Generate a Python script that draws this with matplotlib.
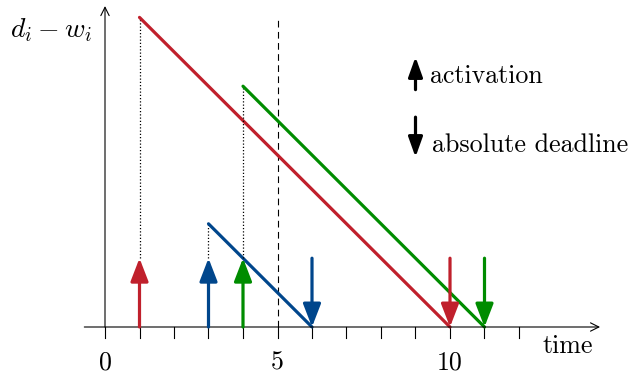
import matplotlib
matplotlib.use("Agg")
import matplotlib.pyplot as plt

plt.rcParams['mathtext.fontset'] = 'cm'
plt.rcParams['font.family'] = ['cmr10', 'DejaVu Sans']

red = '#C0202C'
blue = '#00468C'
green = '#008C00'

# jobs: activation time, value of d_i - w_i at activation, deadline
act = [1, 3, 4]
start_val = [9, 3, 7]
deadline = [10, 6, 11]
colors = [red, blue, green]
arrow_h = 2
ticks = list(range(0, 13))
tick_labels = {0: '0', 5: '5', 10: '10'}

fig = plt.figure(figsize=(6.31, 3.76), dpi=100)
ax = fig.add_axes([0, 0, 1, 1])
ax.set_xlim(-105 / 34.5, (631 - 105) / 34.5)
ax.set_ylim(-(376 - 327) / 34.4, 327 / 34.4)
ax.axis('off')

# axes with arrows
ax.annotate('', xy=(14.35, 0), xytext=(-0.6, 0),
            arrowprops=dict(arrowstyle='->,head_length=6,head_width=3', mutation_scale=1,
                            lw=0.8, color='black', shrinkA=0, shrinkB=0))
ax.annotate('', xy=(0, 9.33), xytext=(0, 0),
            arrowprops=dict(arrowstyle='->,head_length=6,head_width=3', mutation_scale=1,
                            lw=0.8, color='black', shrinkA=0, shrinkB=0))
for t in ticks:
    ax.plot([t, t], [0, -0.33], color='black', lw=0.8)
for t, s in tick_labels.items():
    ax.text(t, -1.04, s, ha='center', va='center', fontsize=18.7)
ax.text(12.67, -0.57, 'time', ha='left', va='center', fontsize=18.7)
ax.text(-1.57, 8.63, r'$d_i - w_i$', ha='center', va='center', fontsize=20)

# dashed line at t=5
ax.plot([5, 5], [0, 9.05], color='black', lw=0.8, ls=(0, (6, 4)))

for a, v, d, c in zip(act, start_val, deadline, colors):
    ax.plot([a, a], [arrow_h, v], color='black', lw=0.9, ls=(0, (1, 1.6)))
    ax.plot([a, d], [v, 0], color=c, lw=2.3, solid_capstyle='round')
    ax.annotate('', xy=(a, arrow_h), xytext=(a, 0),
                arrowprops=dict(arrowstyle='-|>,head_length=14,head_width=5.4', mutation_scale=1,
                                lw=2.3, color=c, shrinkA=0, shrinkB=0))
    ax.annotate('', xy=(d, 0), xytext=(d, arrow_h),
                arrowprops=dict(arrowstyle='-|>,head_length=14,head_width=5.4', mutation_scale=1,
                                lw=2.3, color=c, shrinkA=0, shrinkB=0))

# legend
ax.annotate('', xy=(9, 7.85), xytext=(9, 6.9),
            arrowprops=dict(arrowstyle='-|>,head_length=12,head_width=4.3', mutation_scale=1,
                            lw=2.3, color='black', shrinkA=0, shrinkB=0))
ax.text(9.42, 7.3, 'activation', ha='left', va='center', fontsize=18.7)
ax.annotate('', xy=(9, 4.94), xytext=(9, 6.1),
            arrowprops=dict(arrowstyle='-|>,head_length=12,head_width=4.3', mutation_scale=1,
                            lw=2.3, color='black', shrinkA=0, shrinkB=0))
ax.text(9.48, 5.28, 'absolute deadline', ha='left', va='center', fontsize=18.7)

fig.savefig('out.png', dpi=100)
